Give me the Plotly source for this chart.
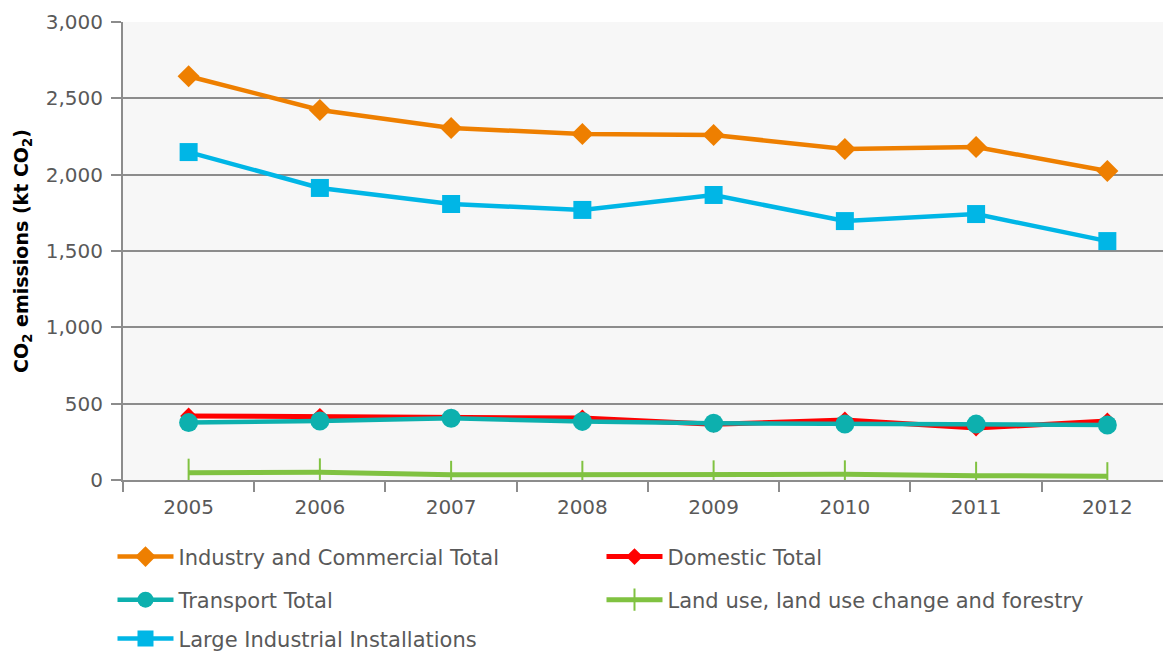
import plotly.graph_objects as go

years = ["2005", "2006", "2007", "2008", "2009", "2010", "2011", "2012"]
industry = [2645, 2424, 2306, 2266, 2260, 2168, 2181, 2024]
domestic = [419, 417, 412, 406, 365, 393, 340, 386]
transport = [376, 386, 404, 384, 372, 367, 366, 360]
landuse = [48, 50, 34, 34, 37, 37, 28, 25]
large_ind = [2148, 1913, 1808, 1769, 1867, 1696, 1742, 1565]

names = ["Industry and Commercial Total", "Domestic Total", "Transport Total",
         "Land use, land use change and forestry", "Large Industrial Installations"]

fig = go.Figure()
font_family = "DejaVu Sans"

def add(name, y, color, symbol, msize, lw, legend, mline=None):
    marker = dict(symbol=symbol, size=msize, color=color)
    if mline:
        marker["line"] = dict(color=color, width=mline)
    fig.add_trace(go.Scatter(x=years, y=y, name=name, mode="lines+markers",
                             line=dict(color=color, width=lw), marker=marker,
                             legend=legend))

add(names[0], industry, "#EE7F00", "diamond", 17, 4.5, "legend")
add(names[1], domestic, "#FF0000", "diamond", 13, 5, "legend")
add(names[3], landuse, "#80C241", "line-ns", 20, 5, "legend2", mline=2)
add(names[2], transport, "#0DB0AE", "circle", 19, 4.5, "legend2")
add(names[4], large_ind, "#00B6E6", "square", 18, 4.5, "legend3")

# draw land use first but list Transport first in its legend row
fig.data[2].legendrank = 2
fig.data[3].legendrank = 1

leg_common = dict(orientation="h", x=-0.0101, xanchor="left", yanchor="middle",
                  entrywidth=418, entrywidthmode="pixels",
                  font=dict(family=font_family, size=21, color="#595959"),
                  bgcolor="rgba(0,0,0,0)", itemwidth=56)

fig.update_layout(
    width=1163, height=652,
    margin=dict(l=123, r=0, t=22, b=172, autoexpand=False),
    paper_bgcolor="white",
    plot_bgcolor="#F7F7F7",
    font=dict(family=font_family, color="#595959"),
    showlegend=True,
    legend=dict(y=-0.168, **leg_common),
    legend2=dict(y=-0.262, **leg_common),
    legend3=dict(y=-0.347, **leg_common),
    xaxis=dict(type="category", range=[-0.5, 7.424], tickson="boundaries",
               ticks="outside", ticklen=10, tickwidth=2, tickcolor="#8C8C8C",
               showline=True, linecolor="#8C8C8C", linewidth=2,
               showgrid=False, ticklabelstandoff=8,
               tickfont=dict(size=20, color="#595959")),
    yaxis=dict(range=[0, 3000], tickvals=[0, 500, 1000, 1500, 2000, 2500, 3000],
               tickformat=",d", ticks="outside", ticklen=10, tickwidth=2,
               tickcolor="#8C8C8C", showline=True, linecolor="#8C8C8C", linewidth=2,
               showgrid=True, gridcolor="#8C8C8C", gridwidth=2, zeroline=False,
               ticklabelstandoff=4,
               tickfont=dict(size=20, color="#595959"),
               title=dict(text="<b>CO<sub>2</sub> emissions (kt CO<sub>2</sub>)</b>",
                          font=dict(size=19, color="#000000"), standoff=12)),
)

fig.write_html("out.html")
